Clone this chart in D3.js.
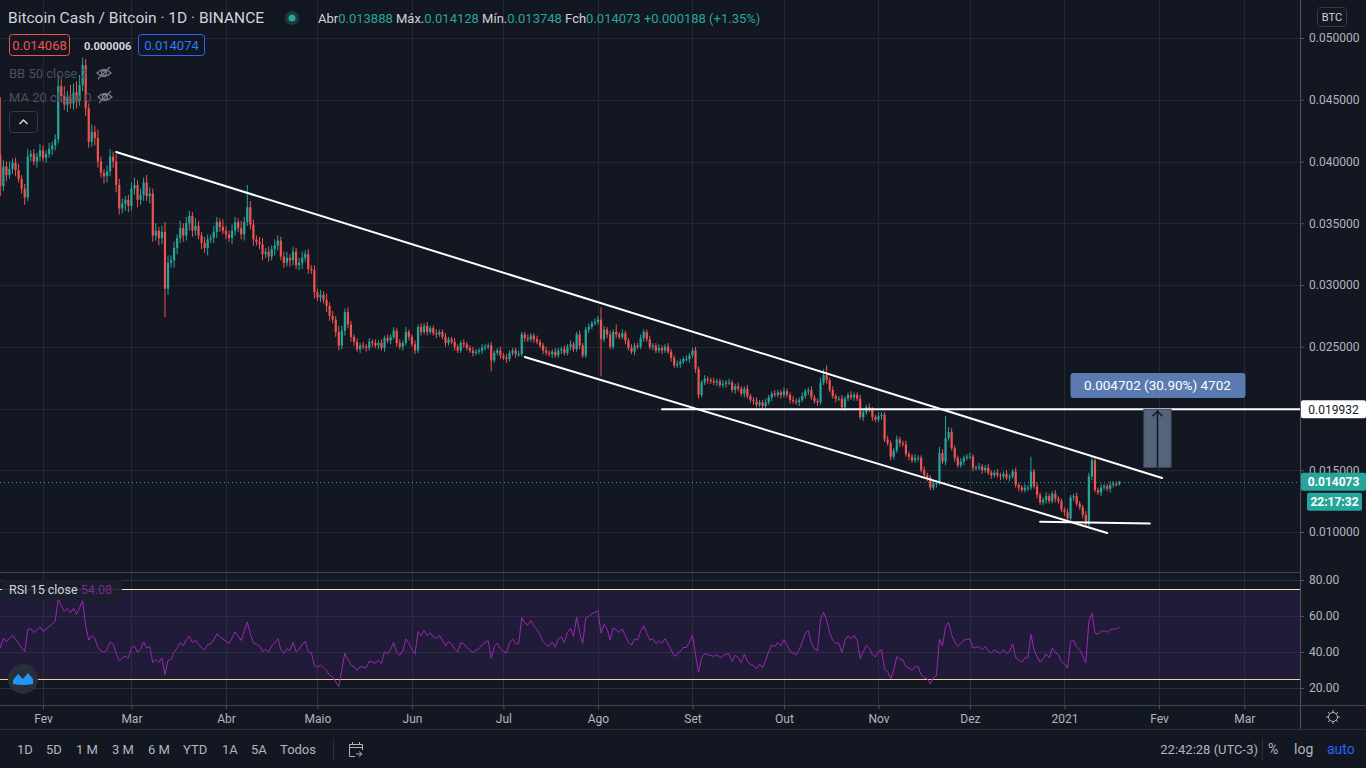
<!DOCTYPE html>
<html>
<head>
<meta charset="utf-8">
<script src="https://cdn.jsdelivr.net/npm/d3@7"></script>
<style>
  body { margin: 0; background: #131722; overflow: hidden; }
  text { font-family: Roboto, "Noto Sans", sans-serif; }
</style>
</head>
<body>
<script>
// Dados diários BCH/BTC (Binance), de 18 jan 2020 a 19 jan 2021
const startDay = Date.UTC(2020, 0, 18)
const firstOpen = 0.0405

const closes = [
  // jan (18-31)
  0.0380,0.0396,0.0389,0.0394,0.0399,0.0393,0.0386,0.0378,0.0371,0.0404,0.0406,0.0400,0.0404,0.0409,
  // fev
  0.0403,0.0406,0.0410,0.0413,0.0418,0.0461,0.0453,0.0446,0.0452,0.0447,0.0456,0.0449,0.0462,0.0478,0.0443,
  0.0416,0.0424,0.0419,0.0400,0.0391,0.0388,0.0392,0.0404,0.0400,0.0381,0.0362,0.0366,0.0369,0.0364,
  // mar
  0.0378,0.0381,0.0369,0.0373,0.0383,0.0372,0.0374,0.0340,0.0344,0.0338,0.0343,0.0297,0.0318,0.0320,0.0330,
  0.0338,0.0346,0.0340,0.0350,0.0356,0.0344,0.0348,0.0340,0.0334,0.0330,0.0337,0.0338,0.0343,0.0351,0.0347,0.0344,
  // abr
  0.0341,0.0338,0.0344,0.0351,0.0346,0.0341,0.0351,0.0363,0.0349,0.0337,0.0335,0.0333,0.0325,0.0327,0.0323,
  0.0329,0.0332,0.0336,0.0323,0.0318,0.0322,0.0320,0.0327,0.0316,0.0318,0.0322,0.0325,0.0313,0.0312,0.0294,
  // maio
  0.0290,0.0292,0.0288,0.0283,0.0275,0.0272,0.0262,0.0251,0.0263,0.0278,0.0268,0.0258,0.0254,0.0248,0.0251,
  0.0250,0.0249,0.0254,0.0253,0.0251,0.0253,0.0249,0.0257,0.0255,0.0258,0.0263,0.0253,0.0250,0.0253,0.0262,0.0258,
  // jun
  0.0252,0.0247,0.0266,0.0262,0.0267,0.0262,0.0265,0.0261,0.0260,0.0262,0.0258,0.0253,0.0256,0.0254,0.0250,
  0.0247,0.0253,0.0252,0.0249,0.0247,0.0245,0.0246,0.0247,0.0249,0.0250,0.0251,0.0239,0.0245,0.0247,0.0243,
  // jul
  0.0241,0.0240,0.0245,0.0247,0.0244,0.0244,0.0260,0.0257,0.0256,0.0259,0.0256,0.0254,0.0251,0.0247,0.0245,
  0.0244,0.0246,0.0243,0.0247,0.0248,0.0245,0.0250,0.0252,0.0248,0.0260,0.0251,0.0243,0.0264,0.0266,0.0269,0.0270,
  // ago
  0.0272,0.0256,0.0264,0.0260,0.0250,0.0262,0.0260,0.0258,0.0261,0.0255,0.0249,0.0246,0.0251,0.0250,0.0257,
  0.0262,0.0256,0.0250,0.0251,0.0247,0.0249,0.0247,0.0250,0.0246,0.0241,0.0235,0.0236,0.0238,0.0240,0.0240,0.0243,
  // set
  0.0247,0.0232,0.0211,0.0221,0.0224,0.0223,0.0222,0.0221,0.0222,0.0219,0.0220,0.0221,0.0221,0.0215,0.0218,
  0.0216,0.0212,0.0216,0.0210,0.0207,0.0206,0.0203,0.0205,0.0202,0.0205,0.0209,0.0212,0.0211,0.0213,0.0211,
  // out
  0.0214,0.0211,0.0207,0.0206,0.0205,0.0207,0.0210,0.0214,0.0215,0.0209,0.0206,0.0205,0.0221,0.0227,0.0223,
  0.0215,0.0210,0.0208,0.0208,0.0201,0.0208,0.0211,0.0209,0.0211,0.0208,0.0193,0.0197,0.0201,0.0199,0.0193,0.0191,
  // nov
  0.0194,0.0195,0.0175,0.0172,0.0161,0.0166,0.0175,0.0172,0.0171,0.0163,0.0161,0.0158,0.0160,0.0160,0.0150,
  0.0146,0.0144,0.0136,0.0139,0.0140,0.0164,0.0157,0.0176,0.0181,0.0168,0.0160,0.0154,0.0157,0.0160,0.0161,
  // dez
  0.0161,0.0152,0.0152,0.0153,0.0150,0.0152,0.0148,0.0146,0.0148,0.0146,0.0145,0.0147,0.0144,0.0145,0.0149,
  0.0138,0.0136,0.0134,0.0136,0.0136,0.0149,0.0137,0.0130,0.0124,0.0126,0.0129,0.0125,0.0131,0.0127,0.0125,0.0118,
  // jan 2021
  0.0116,0.0111,0.0128,0.0129,0.0123,0.0120,0.0114,0.0106,0.0145,0.0158,0.0134,0.0132,0.0136,0.0137,0.0135,
  0.0138,0.0139,0.013888,0.014073
]

// pavios, em unidades de 0.0001 BTC
const upperWick = [
  47,5,4,6,3,4,5,3,4,6,3,4,3,5,
  4,3,5,3,4,9,6,8,5,10,7,9,8,6,5,4,6,5,7,4,3,5,6,4,6,5,4,3,4,
  5,6,4,5,4,6,5,4,6,3,5,8,6,4,5,3,6,4,5,4,3,6,4,3,5,4,3,5,4,3,6,
  4,3,5,4,3,6,4,18,5,4,3,4,5,3,4,3,5,4,3,4,5,3,4,3,4,5,3,4,3,4,
  3,4,3,5,3,4,3,5,4,3,4,3,2,3,2,3,2,3,2,3,2,3,2,3,2,3,2,3,2,4,2,
  2,3,2,3,2,3,2,2,3,2,2,3,2,2,3,2,2,3,2,2,3,2,2,3,2,2,3,2,2,3,
  2,3,2,2,2,3,2,2,3,2,2,3,2,2,3,2,2,3,2,2,3,2,3,2,2,3,2,2,3,2,3,
  3,10,3,2,3,2,6,2,3,2,2,3,2,2,3,2,2,3,2,2,3,2,2,3,2,2,3,2,2,3,2,
  2,3,2,2,3,2,2,3,2,2,3,2,3,2,2,3,2,2,3,2,2,3,2,2,3,2,2,3,2,2,
  3,2,2,3,2,2,3,2,2,3,2,2,4,5,8,2,3,2,2,3,2,2,3,2,2,3,2,2,3,2,2,
  3,2,2,3,2,2,3,2,2,3,2,2,3,2,2,3,2,2,3,2,5,3,18,4,3,2,2,3,2,2,
  3,2,2,3,2,2,3,2,2,3,2,2,3,2,2,3,2,2,3,2,12,2,3,2,2,3,2,2,3,2,2,
  2,3,2,2,3,2,2,3,3,3,2,2,3,2,2,3,2,2,0.55
]
const lowerWick = [
  8,4,5,3,4,5,3,4,6,3,4,3,5,4,
  3,4,3,5,4,3,5,4,6,4,5,6,4,5,6,5,4,6,5,4,6,5,4,5,6,5,4,6,5,
  4,5,6,4,5,4,6,5,4,6,5,23,5,4,6,5,4,5,4,6,5,4,3,5,4,6,3,4,5,4,3,
  4,3,5,4,3,4,5,3,4,5,3,4,5,3,4,3,5,4,3,4,3,5,4,3,4,5,3,4,3,5,
  3,4,3,5,4,3,4,4,3,4,3,4,3,2,3,2,3,2,3,2,3,2,3,2,3,2,3,2,3,2,3,
  2,3,2,3,2,3,2,2,3,2,2,3,2,2,3,2,2,3,2,2,3,2,2,3,2,2,9,2,2,3,
  2,3,2,2,3,2,2,3,2,2,3,2,2,3,2,2,3,2,2,3,2,2,3,2,2,3,2,2,3,2,2,
  2,30,2,3,2,2,3,2,2,3,2,2,3,2,2,3,2,2,3,2,2,3,2,2,3,2,2,3,2,2,3,
  2,3,3,2,2,3,2,2,3,2,2,3,2,2,3,2,2,3,2,2,3,2,2,3,2,2,3,2,2,3,
  2,2,3,2,2,3,2,2,3,2,2,3,2,2,3,2,2,3,2,2,3,2,2,3,2,2,3,2,2,3,2,
  2,3,2,2,3,2,2,3,2,2,3,2,2,3,2,2,3,2,2,3,2,2,3,2,2,3,2,2,3,2,
  2,3,2,2,3,2,2,3,2,2,3,2,2,3,2,2,3,2,2,3,2,2,3,2,2,3,2,2,3,2,2,
  3,2,2,3,2,2,3,2,2,3,2,2,3,2,2,3,2,2,1.4
]

const monthLabels = ['Fev', 'Mar', 'Abr', 'Maio', 'Jun', 'Jul', 'Ago', 'Set', 'Out', 'Nov', 'Dez', '2021', 'Fev', 'Mar']
const priceTicks = [0.010, 0.015, 0.020, 0.025, 0.030, 0.035, 0.040, 0.045, 0.050]
const rsiTicks = [20, 40, 60, 80]
const rsiBand = [25, 75]
const rsiLength = 15

// desenhos sobre o gráfico: [data, preço]
const channelTop = [['2020-02-25', 0.04077], ['2021-02-02', 0.01437]]
const channelBottom = [['2020-07-08', 0.02417], ['2021-01-15', 0.00992]]
const resistance = ['2020-08-22', 0.019932]
const support = [['2020-12-24', 0.01083], ['2021-01-29', 0.01068]]
const measureDates = ['2021-01-27', '2021-02-05']
const measurePrices = [0.01523, 0.019932]
const measureLabel = '0.004702 (30.90%) 4702'

const W = 1366, H = 768, plotW = 1300
const rsiPane = [573, 705]

const svg = d3.select('body')
  .append('svg')
  .attr('width', W)
  .attr('height', H)

svg.append('rect').attr('width', W).attr('height', H).attr('fill', '#131722')

// Escalas
const x = d3.scaleUtc()
  .domain([Date.UTC(2020, 1, 1), Date.UTC(2021, 1, 1)])
  .range([43, 1159])
const y = d3.scaleLinear().domain([0.01, 0.05]).range([532, 38])
const yR = d3.scaleLinear().domain([20, 80]).range([688, 580])
const day = s => new Date(s + 'T00:00:00Z')

const candles = closes.map((c, i) => {
  const o = i === 0 ? firstOpen : closes[i - 1]
  return {
    date: new Date(startDay + i * 864e5), o, c,
    h: Math.max(o, c) + (upperWick[i] || 0) * 1e-4,
    l: Math.min(o, c) - (lowerWick[i] || 0) * 1e-4
  }
})

// RSI (Wilder)
let avgUp, avgDown
const seed = d3.mean(candles.slice(0, rsiLength), d => Math.abs(d.c - d.o)) / 2
avgUp = seed; avgDown = seed
const rsi = candles.map(d => {
  const ch = d.c - d.o
  avgUp = (avgUp * (rsiLength - 1) + Math.max(ch, 0)) / rsiLength
  avgDown = (avgDown * (rsiLength - 1) + Math.max(-ch, 0)) / rsiLength
  return { date: d.date, v: 100 - 100 / (1 + avgUp / avgDown) }
})

const months = d3.utcMonth.range(Date.UTC(2020, 1, 1), Date.UTC(2021, 2, 2))

// Grade
const grid = svg.append('g').attr('stroke', '#242832').attr('stroke-width', 1)
grid.selectAll('.v').data(months).enter().append('line')
  .attr('x1', d => Math.round(x(d)) + 0.5).attr('x2', d => Math.round(x(d)) + 0.5)
  .attr('y1', 0).attr('y2', rsiPane[1])
grid.selectAll('.h').data(priceTicks).enter().append('line')
  .attr('x1', 0).attr('x2', plotW)
  .attr('y1', d => Math.round(y(d)) + 0.5).attr('y2', d => Math.round(y(d)) + 0.5)

// Painel RSI
svg.append('rect')
  .attr('x', 0).attr('width', plotW)
  .attr('y', yR(rsiBand[1])).attr('height', yR(rsiBand[0]) - yR(rsiBand[1]))
  .attr('fill', '#211b3a')
svg.append('g').attr('stroke', '#2e2b45')
  .selectAll('line').data(rsiTicks).enter().append('line')
  .attr('x1', 0).attr('x2', plotW)
  .attr('y1', d => Math.round(yR(d)) + 0.5).attr('y2', d => Math.round(yR(d)) + 0.5)
svg.append('g').attr('stroke', '#2a2e39')
  .selectAll('line').data(months).enter().append('line')
  .attr('x1', d => Math.round(x(d)) + 0.5).attr('x2', d => Math.round(x(d)) + 0.5)
  .attr('y1', rsiPane[0]).attr('y2', rsiPane[1])
svg.append('g')
  .selectAll('line').data(rsiBand).enter().append('line')
  .attr('x1', 0).attr('x2', plotW)
  .attr('y1', d => Math.round(yR(d)) + 0.5).attr('y2', d => Math.round(yR(d)) + 0.5)
  .attr('stroke', (d, i) => i ? '#f5eaa8' : '#f2d58c')
svg.append('path')
  .datum(rsi)
  .attr('fill', 'none')
  .attr('stroke', '#9c27b0')
  .attr('stroke-width', 1)
  .attr('d', d3.line().x(d => x(d.date)).y(d => yR(d.v)))

// Velas
const candleG = svg.append('g')
candleG.selectAll('line').data(candles).enter().append('line')
  .attr('x1', d => x(d.date)).attr('x2', d => x(d.date))
  .attr('y1', d => y(d.h)).attr('y2', d => y(d.l))
  .attr('stroke', d => d.c >= d.o ? '#26a69a' : '#ef5350')
  .attr('stroke-width', 1)
candleG.selectAll('rect').data(candles).enter().append('rect')
  .attr('x', d => x(d.date) - 1.1)
  .attr('width', 2.2)
  .attr('y', d => y(Math.max(d.o, d.c)))
  .attr('height', d => Math.max(1, Math.abs(y(d.o) - y(d.c))))
  .attr('fill', d => d.c >= d.o ? '#26a69a' : '#ef5350')

// Linha do preço atual
const last = candles[candles.length - 1]
svg.append('line')
  .attr('x1', 0).attr('x2', plotW)
  .attr('y1', Math.round(y(last.c)) + 0.5).attr('y2', Math.round(y(last.c)) + 0.5)
  .attr('stroke', '#26a69a').attr('stroke-dasharray', '1,3')

// Canal e linhas desenhadas
const drawLine = (pts, x2) => svg.append('line')
  .attr('x1', x(day(pts[0][0]))).attr('y1', y(pts[0][1]))
  .attr('x2', x2 !== undefined ? x2 : x(day(pts[1][0]))).attr('y2', y(pts[1][1]))
  .attr('stroke', '#ffffff').attr('stroke-width', 2).attr('stroke-linecap', 'round')
drawLine(channelTop)
drawLine(channelBottom)
drawLine(support)
drawLine([resistance, resistance], plotW)

// Medição
const mx1 = x(day(measureDates[0])), mx2 = x(day(measureDates[1]))
const mid = (mx1 + mx2) / 2
svg.append('rect')
  .attr('x', mx1).attr('width', mx2 - mx1)
  .attr('y', y(measurePrices[1])).attr('height', y(measurePrices[0]) - y(measurePrices[1]))
  .attr('fill', '#56647b').attr('stroke', '#3c4658')
svg.append('line')
  .attr('x1', mid).attr('x2', mid)
  .attr('y1', y(measurePrices[0])).attr('y2', y(measurePrices[1]) + 1)
  .attr('stroke', '#131722').attr('stroke-width', 1.5)
svg.append('path')
  .attr('d', `M${mid - 5},${y(measurePrices[1]) + 7} L${mid},${y(measurePrices[1]) + 2} L${mid + 5},${y(measurePrices[1]) + 7}`)
  .attr('fill', 'none').attr('stroke', '#131722').attr('stroke-width', 1.5)
svg.append('rect')
  .attr('x', mid - 87).attr('y', 373).attr('width', 175).attr('height', 25).attr('rx', 3)
  .attr('fill', '#5b7bb0')
svg.append('text')
  .attr('x', mid).attr('y', 390)
  .attr('text-anchor', 'middle').attr('fill', '#ffffff').attr('font-size', 13.5)
  .text(measureLabel)

// Separadores e eixos
svg.append('line').attr('x1', 0).attr('x2', plotW).attr('y1', 572.5).attr('y2', 572.5).attr('stroke', '#434651')
svg.append('line').attr('x1', 0).attr('x2', W).attr('y1', 705.5).attr('y2', 705.5).attr('stroke', '#434651')
svg.append('line').attr('x1', 0).attr('x2', W).attr('y1', 729.5).attr('y2', 729.5).attr('stroke', '#2a2e39')
svg.append('line').attr('x1', 1300.5).attr('x2', 1300.5).attr('y1', 0).attr('y2', 729).attr('stroke', '#50535e')

const priceAxis = svg.append('g')
  .attr('transform', 'translate(1300,0)')
  .call(d3.axisRight(y).tickValues(priceTicks).tickFormat(d3.format('.6f')).tickSize(4).tickPadding(5))
const rsiAxis = svg.append('g')
  .attr('transform', 'translate(1300,0)')
  .call(d3.axisRight(yR).tickValues(rsiTicks).tickFormat(d3.format('.2f')).tickSize(4).tickPadding(5))
const timeAxis = svg.append('g')
  .attr('transform', 'translate(0,705)')
  .call(d3.axisBottom(x).tickValues(months).tickFormat((d, i) => monthLabels[i]).tickSize(4).tickPadding(3))
;[priceAxis, rsiAxis, timeAxis].forEach(a => {
  a.select('.domain').remove()
  a.selectAll('line').attr('stroke', '#50535e')
  a.selectAll('text').attr('fill', '#b2b5be').attr('font-size', 12)
    .attr('font-family', 'Roboto, "Noto Sans", sans-serif')
})
timeAxis.selectAll('text').attr('dy', '0.9em')

// Etiquetas de preço no eixo
const axisTag = (yv, fill, color, label, x0, w, weight) => {
  svg.append('rect').attr('x', x0).attr('y', yv - 9).attr('width', w).attr('height', 18).attr('rx', 2).attr('fill', fill)
  svg.append('text').attr('x', x0 + w / 2).attr('y', yv + 4.5).attr('text-anchor', 'middle')
    .attr('fill', color).attr('font-size', 12).attr('font-weight', weight).text(label)
}
axisTag(y(resistance[1]), '#ffffff', '#131722', d3.format('.6f')(resistance[1]), 1301, 65, 'normal')
axisTag(y(last.c), '#26a69a', '#ffffff', d3.format('.6f')(last.c), 1301, 65, 'bold')
axisTag(y(last.c) + 20, '#26a69a', '#ffffff', '22:17:32', 1307, 55, 'bold')

svg.append('rect').attr('x', 1317.5).attr('y', 7.5).attr('width', 29).attr('height', 19).attr('rx', 3)
  .attr('fill', 'none').attr('stroke', '#363a45')
svg.append('text').attr('x', 1332).attr('y', 21).attr('text-anchor', 'middle')
  .attr('fill', '#d1d4dc').attr('font-size', 11).text('BTC')

// Cabeçalho
svg.append('text').attr('x', 8).attr('y', 23).attr('font-size', 15.5).attr('fill', '#d1d4dc')
  .text('Bitcoin Cash / Bitcoin · 1D · BINANCE')
svg.append('circle').attr('cx', 292).attr('cy', 18).attr('r', 7).attr('fill', '#1e3b3a')
svg.append('circle').attr('cx', 292).attr('cy', 18).attr('r', 3.5).attr('fill', '#26a69a')

const ohlc = svg.append('text').attr('x', 318).attr('y', 23).attr('font-size', 13).attr('xml:space', 'preserve')
;[['Abr', '0.013888'], ['Máx.', '0.014128'], ['Mín.', '0.013748'], ['Fch', '0.014073'], ['', '+0.000188 (+1.35%)']]
  .forEach(([k, v]) => {
    ohlc.append('tspan').attr('fill', '#d1d4dc').text(k)
    ohlc.append('tspan').attr('fill', '#26a69a').text(v + ' ')
  })

svg.append('rect').attr('x', 9.5).attr('y', 34.5).attr('width', 60).attr('height', 21).attr('rx', 3)
  .attr('fill', '#131722').attr('stroke', '#ef5350')
svg.append('text').attr('x', 39.5).attr('y', 50).attr('text-anchor', 'middle').attr('fill', '#ef5350')
  .attr('font-size', 13).text('0.014068')
svg.append('text').attr('x', 84).attr('y', 50).attr('fill', '#d1d4dc').attr('font-size', 11).attr('font-weight', 'bold')
  .text('0.000006')
svg.append('rect').attr('x', 138.5).attr('y', 34.5).attr('width', 66).attr('height', 21).attr('rx', 3)
  .attr('fill', '#131722').attr('stroke', '#2962ff')
svg.append('text').attr('x', 171.5).attr('y', 50).attr('text-anchor', 'middle').attr('fill', '#2e7cf6')
  .attr('font-size', 13).text('0.014074')

// Indicadores ocultos
const eye = (cx, cy) => {
  const g = svg.append('g').attr('transform', `translate(${cx},${cy})`)
    .attr('fill', 'none').attr('stroke', '#787b86').attr('stroke-width', 1.3)
  g.append('path').attr('d', 'M-7,0 Q0,-7 7,0 Q0,7 -7,0 Z')
  g.append('circle').attr('r', 2.5)
  g.append('line').attr('x1', -6).attr('y1', 6).attr('x2', 6).attr('y2', -6)
}
svg.append('text').attr('x', 9).attr('y', 78).attr('fill', '#4a4f5c').attr('font-size', 13).text('BB 50 close 2')
svg.append('text').attr('x', 9).attr('y', 102).attr('fill', '#4a4f5c').attr('font-size', 13).text('MA 20 close 0')
eye(104, 73)
eye(105, 97)
svg.append('rect').attr('x', 9.5).attr('y', 111.5).attr('width', 28).attr('height', 21).attr('rx', 3)
  .attr('fill', '#131722').attr('stroke', '#363a45')
svg.append('path').attr('d', 'M19.5,124 L23.5,120 L27.5,124').attr('fill', 'none')
  .attr('stroke', '#d1d4dc').attr('stroke-width', 1.5)

// Legenda do RSI
svg.append('rect').attr('x', 2).attr('y', 580).attr('width', 120).attr('height', 20).attr('fill', '#1b1f2b').attr('opacity', 0.9)
const rsiLabel = svg.append('text').attr('x', 9).attr('y', 594).attr('font-size', 12.5)
rsiLabel.append('tspan').attr('fill', '#d1d4dc').text('RSI 15 close ')
rsiLabel.append('tspan').attr('fill', '#7b2a8f').text(' 54.08')

// Logo
svg.append('circle').attr('cx', 23).attr('cy', 679).attr('r', 15).attr('fill', '#2a2e39')
svg.append('path').attr('d', 'M13,684 L13,680 L18,674 L23,679 L28,673 L33,679 L33,684 Q23,686 13,684 Z')
  .attr('fill', '#2196f3')

// Engrenagem
const gear = svg.append('g').attr('transform', 'translate(1333,717)').attr('stroke', '#b2b5be').attr('fill', 'none')
gear.append('circle').attr('r', 4.5)
d3.range(8).forEach(k => {
  const a = k * Math.PI / 4
  gear.append('line').attr('x1', Math.cos(a) * 4.5).attr('y1', Math.sin(a) * 4.5)
    .attr('x2', Math.cos(a) * 7).attr('y2', Math.sin(a) * 7)
})

// Barra inferior
const ranges = ['1D', '5D', '1 M', '3 M', '6 M', 'YTD', '1A', '5A', 'Todos']
const rangeX = [17, 46, 76, 112, 148, 183, 222, 251, 280]
svg.selectAll('.range').data(ranges).enter().append('text')
  .attr('x', (d, i) => rangeX[i]).attr('y', 754)
  .attr('fill', '#b2b5be').attr('font-size', 13).text(d => d)
svg.append('line').attr('x1', 333.5).attr('x2', 333.5).attr('y1', 738).attr('y2', 760).attr('stroke', '#2a2e39')
const cal = svg.append('g').attr('transform', 'translate(349,742)').attr('stroke', '#b2b5be').attr('fill', 'none')
cal.append('path').attr('d', 'M0.5,2.5 H13.5 M0.5,5.5 H13.5 M0.5,2.5 V14.5 H6 M13.5,2.5 V8 M3.5,0 V3 M10.5,0 V3 M7,12 H13 M10,9.5 L13,12 L10,14.5')
svg.append('text').attr('x', 1258).attr('y', 754).attr('text-anchor', 'end')
  .attr('fill', '#b2b5be').attr('font-size', 13).text('22:42:28 (UTC-3)')
svg.append('line').attr('x1', 1262.5).attr('x2', 1262.5).attr('y1', 738).attr('y2', 760).attr('stroke', '#2a2e39')
svg.append('text').attr('x', 1268).attr('y', 754).attr('fill', '#b2b5be').attr('font-size', 14).text('%')
svg.append('text').attr('x', 1294).attr('y', 754).attr('fill', '#b2b5be').attr('font-size', 14).text('log')
svg.append('text').attr('x', 1327).attr('y', 754).attr('fill', '#2962ff').attr('font-size', 14).text('auto')
</script>
</body>
</html>
